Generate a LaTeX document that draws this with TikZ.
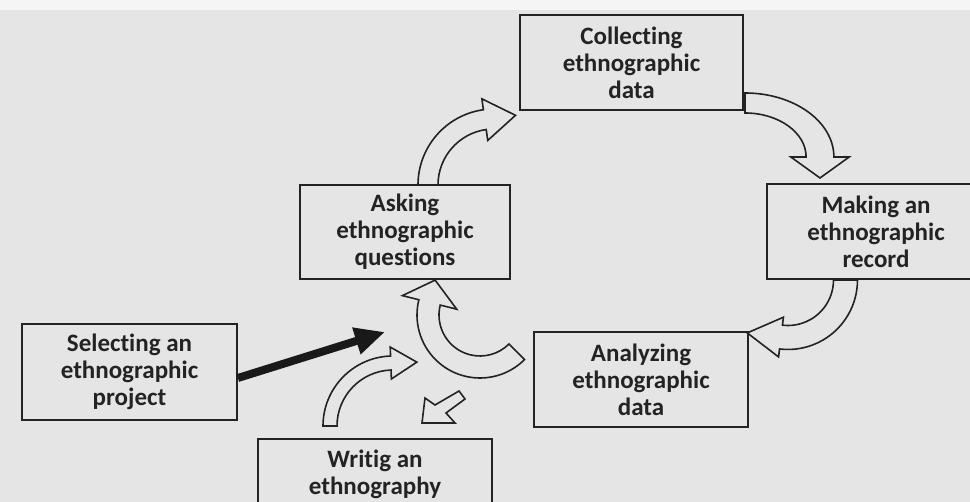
\documentclass[tikz,border=0pt]{standalone}
\usepackage{fontspec}
\setmainfont{Carlito}[Ligatures={NoCommon,NoContextual}]
\usetikzlibrary{arrows.meta}
\definecolor{bgc}{RGB}{229,229,229}
\definecolor{ink}{RGB}{35,35,35}
% curved block arrow: #1 cx, #2 cy, #3 radius, #4 xscale, #5 start angle, #6 end angle,
% #7 shaft width, #8 head width, #9 head length
\newcommand\curvarrow[9]{%
  \pgfmathsetmacro\cvRo{#3+#7/2}%
  \pgfmathsetmacro\cvRi{#3-#7/2}%
  \pgfmathsetmacro\cvHo{#3+#8/2}%
  \pgfmathsetmacro\cvHi{#3-#8/2}%
  \pgfmathsetmacro\cvSg{(#6>#5)?1:-1}%
  \pgfmathsetmacro\cvTa{#6+\cvSg*90}%
  \pgfmathsetmacro\cvTx{#3*cos(#6)+#9*cos(\cvTa)}%
  \pgfmathsetmacro\cvTy{#3*sin(#6)+#9*sin(\cvTa)}%
  \draw[blockarrow, shift={(#1,#2)}, xscale=#4]
    (#5:\cvRo pt) arc[start angle=#5, end angle=#6, radius=\cvRo pt]
    -- (#6:\cvHo pt) -- (\cvTx pt,\cvTy pt) -- (#6:\cvHi pt) -- (#6:\cvRi pt)
    arc[start angle=#6, end angle=#5, radius=\cvRi pt] -- cycle;
}
\begin{document}
\begin{tikzpicture}[x=1pt,y=1pt,
  box/.style={draw=ink, line width=1.8pt, inner sep=0pt, align=center, text=ink,
    font=\fontsize{25}{27}\selectfont\bfseries},
  blockarrow/.style={draw=ink, line width=1.6pt, fill=bgc, line join=miter},
  solidarrow/.style={draw=black!90, line width=8pt, -{Triangle[length=30pt,width=26pt]}}
]
\useasboundingbox (0,0) rectangle (970,502);
\clip (0,0) rectangle (970,502);
\fill[bgc] (0,0) rectangle (970,502);
\fill[white!60!bgc] (0,492) rectangle (970,502);

% boxes
\node[box, minimum width=223pt, minimum height=95pt] (coll) at (631.5,439.5) {Collecting\\ethnographic\\data};
\node[box, minimum width=210pt, minimum height=94pt] (ask) at (405,270) {Asking\\ethnographic\\questions};
\node[box, minimum width=218pt, minimum height=95pt] (make) at (876,270.5) {Making an\\ethnographic\\record};
\node[box, minimum width=214pt, minimum height=95pt] (ana) at (641,122.5) {Analyzing\\ethnographic\\data};
\node[box, minimum width=215pt, minimum height=96pt] (sel) at (129.5,130) {Selecting an\\ethnographic\\project};
\node[box, minimum width=234pt, minimum height=70pt] (wri) at (375,28) {Writig an\\ethnography};

% black arrow from Selecting
\coordinate (blk) at (385,170);
\draw[solidarrow] ([yshift=-6pt]sel.east) -- (blk);

% curved block arrows of the cycle
\curvarrow{494}{317}{66}{1}{180}{98}{20}{42}{31}      % asking -> collecting
\curvarrow{745}{345}{54}{1.389}{90}{0}{20}{42}{21}    % collecting -> making
\curvarrow{788}{222}{57.5}{1}{0}{-97}{24}{40}{34}     % making -> analyzing
\curvarrow{480}{187}{52}{1}{-45}{-194}{22}{56}{23}    % analyzing -> asking
\curvarrow{393}{76}{63}{1}{180}{92}{14}{32}{26}       % writing -> centre

% small straight block arrow pointing to Writing
\draw[blockarrow] (422,79) -- (425,104) -- (435,97) -- (459,111) -- (465,103)
  -- (446,89) -- (455,79) -- cycle;
\end{tikzpicture}
\end{document}
